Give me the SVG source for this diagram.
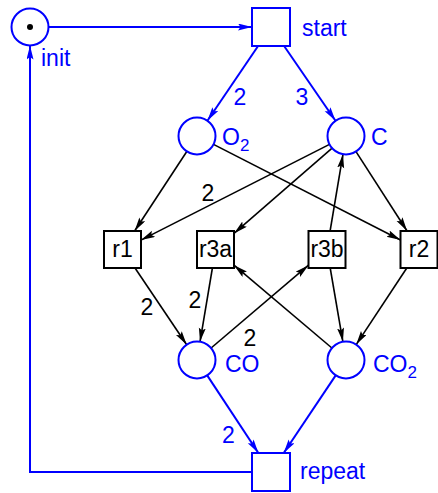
<svg xmlns="http://www.w3.org/2000/svg" width="438" height="493" viewBox="0 0 438 493">
<style>
text{font-family:"Liberation Sans",Arial,sans-serif;font-size:23px}
.b{fill:#0000ff}
.k{fill:#000}
.place{fill:#fff;stroke:#0000ff;stroke-width:2}
.trans{fill:#fff;stroke:#0000ff;stroke-width:2}
.rt{fill:#fff;stroke:#000;stroke-width:2}
.eb{stroke:#0000ff;stroke-width:2;fill:none;marker-end:url(#ab)}
.ek{stroke:#000;stroke-width:1.6;fill:none;marker-end:url(#ak)}
.mid{text-anchor:middle}
</style>
<defs>
<marker id="ab" markerUnits="userSpaceOnUse" markerWidth="15" markerHeight="8" refX="14" refY="3.5" orient="auto" viewBox="0 0 15 8"><path d="M0,0 L14,3.5 L0,7 L2.5,3.5 z" fill="#0000ff"/></marker>
<marker id="ak" markerUnits="userSpaceOnUse" markerWidth="15" markerHeight="8" refX="14" refY="3.5" orient="auto" viewBox="0 0 15 8"><path d="M0,0 L14,3.5 L0,7 L2.5,3.5 z" fill="#000"/></marker>
</defs>
<g id="connectors">
<line class="eb" x1="48.5" y1="27" x2="252" y2="27"/>
<line class="eb" x1="258.1" y1="46" x2="207.4" y2="120.7"/>
<line class="eb" x1="284.1" y1="46" x2="335.5" y2="120.8"/>
<line class="ek" x1="186.8" y1="151.5" x2="134.6" y2="231"/>
<line class="ek" x1="329.5" y1="144.4" x2="141" y2="240.1"/>
<line class="ek" x1="332.1" y1="148.1" x2="234" y2="233.4"/>
<line class="ek" x1="213.5" y1="144.4" x2="400.5" y2="240"/>
<line class="ek" x1="356" y1="151.6" x2="407.1" y2="231"/>
<line class="ek" x1="330.1" y1="231" x2="343" y2="154.2"/>
<line class="ek" x1="135" y1="268" x2="186.7" y2="344.7"/>
<line class="ek" x1="212.4" y1="268" x2="200" y2="341.8"/>
<line class="ek" x1="211.1" y1="348" x2="308.5" y2="265.2"/>
<line class="ek" x1="331.9" y1="348" x2="234" y2="265.2"/>
<line class="ek" x1="330.2" y1="268" x2="342.9" y2="341.8"/>
<line class="ek" x1="406.8" y1="268" x2="356.2" y2="344.6"/>
<line class="eb" x1="207.2" y1="375.4" x2="258.4" y2="453"/>
<line class="eb" x1="335.7" y1="375.4" x2="283.7" y2="453"/>
<polyline class="eb" points="252,472 30,472 30,45.5"/>
<text class="b mid" x="240" y="105">2</text>
<text class="b mid" x="302" y="105">3</text>
<text class="k mid" x="208" y="201">2</text>
<text class="k mid" x="147" y="315">2</text>
<text class="k mid" x="195" y="308">2</text>
<text class="k mid" x="250" y="346">2</text>
<text class="b mid" x="228.5" y="443">2</text>
</g>
<g id="init">
<circle class="place" cx="30" cy="27" r="18.5"/>
<circle cx="30" cy="27" r="3" fill="#000"/>
<text class="b" x="41" y="66">init</text>
</g>
<g id="start">
<rect class="trans" x="252" y="8" width="38" height="38"/>
<text class="b" x="302" y="36">start</text>
</g>
<g id="O2">
<circle class="place" cx="197" cy="136" r="18.5"/>
<text class="b" x="222" y="145">O<tspan dy="6" font-size="17">2</tspan></text>
</g>
<g id="C">
<circle class="place" cx="346" cy="136" r="18.5"/>
<text class="b" x="371" y="145">C</text>
</g>
<g id="r1">
<rect class="rt" x="104" y="231" width="37" height="37"/>
<text class="k mid" x="122.5" y="257">r1</text>
</g>
<g id="r3a">
<rect class="rt" x="197" y="231" width="37" height="37"/>
<text class="k mid" x="215.5" y="257">r3a</text>
</g>
<g id="r3b">
<rect class="rt" x="308.5" y="231" width="37" height="37"/>
<text class="k mid" x="327" y="257">r3b</text>
</g>
<g id="r2">
<rect class="rt" x="400.5" y="231" width="37" height="37"/>
<text class="k mid" x="419" y="257">r2</text>
</g>
<g id="CO">
<circle class="place" cx="197" cy="360" r="18.5"/>
<text class="b" x="225" y="372">CO</text>
</g>
<g id="CO2">
<circle class="place" cx="346" cy="360" r="18.5"/>
<text class="b" x="373" y="372">CO<tspan dy="6" font-size="17">2</tspan></text>
</g>
<g id="repeat">
<rect class="trans" x="252" y="453" width="38" height="38"/>
<text class="b" x="300" y="479">repeat</text>
</g>
</svg>
